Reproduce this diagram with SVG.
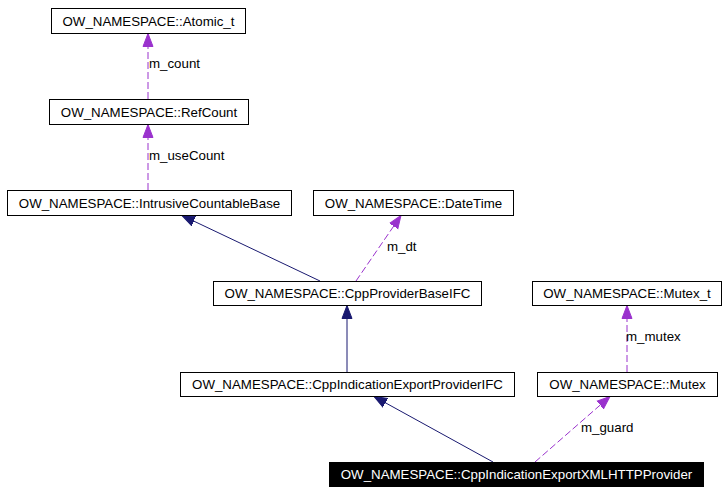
<svg xmlns="http://www.w3.org/2000/svg" width="728" height="493" viewBox="0 0 728 493">
<style>
  .box { fill: #ffffff; stroke: #000000; stroke-width: 1; }
  .sel { fill: #000000; stroke: #000000; stroke-width: 1; }
  .t { font-family: "Liberation Sans", Arial, sans-serif; font-size: 13.3px; fill: #000000; text-anchor: middle; }
  .tw { font-family: "Liberation Sans", Arial, sans-serif; font-size: 13.3px; fill: #ffffff; text-anchor: middle; }
  .lbl { font-family: "Liberation Sans", Arial, sans-serif; font-size: 13.3px; fill: #000000; }
  .inh { stroke: #191970; stroke-width: 1; fill: none; marker-end: url(#ah); }
  .use { stroke: #9a32cd; stroke-width: 1; fill: none; stroke-dasharray: 7,3; marker-end: url(#ap); }
</style>
<defs>
  <marker id="ah" markerUnits="userSpaceOnUse" markerWidth="14" markerHeight="12" refX="13" refY="5" orient="auto" viewBox="0 0 14 10">
    <path d="M0,0 L13,5 L0,10 z" fill="#191970" stroke="#191970"/>
  </marker>
  <marker id="ap" markerUnits="userSpaceOnUse" markerWidth="14" markerHeight="12" refX="13" refY="5" orient="auto" viewBox="0 0 14 10">
    <path d="M0,0 L13,5 L0,10 z" fill="#9a32cd" stroke="#9a32cd"/>
  </marker>
</defs>
<rect width="728" height="493" fill="#ffffff"/>
<g id="connectors">
  <line class="use" x1="148" y1="99" x2="148" y2="33.5"/>
  <line class="use" x1="148" y1="190" x2="148" y2="124.5"/>
  <line class="inh" x1="320" y1="281" x2="182" y2="215.5"/>
  <line class="use" x1="356" y1="281" x2="401" y2="215.5"/>
  <line class="inh" x1="347" y1="372" x2="347" y2="305.5"/>
  <line class="use" x1="627" y1="372" x2="627" y2="305.5"/>
  <line class="inh" x1="493" y1="462" x2="374" y2="396.5"/>
  <line class="use" x1="535" y1="462" x2="610" y2="396.5"/>
  <text class="lbl" x="149" y="68">m_count</text>
  <text class="lbl" x="149" y="160">m_useCount</text>
  <text class="lbl" x="387" y="251">m_dt</text>
  <text class="lbl" x="626" y="341">m_mutex</text>
  <text class="lbl" x="581" y="432">m_guard</text>
</g>
<g id="node_atomic">
  <rect class="box" x="51.5" y="8.5" width="194" height="25"/>
  <text class="t" x="148.5" y="25.5">OW_NAMESPACE::Atomic_t</text>
</g>
<g id="node_refcount">
  <rect class="box" x="49.5" y="99.5" width="199" height="25"/>
  <text class="t" x="149" y="116.5">OW_NAMESPACE::RefCount</text>
</g>
<g id="node_icb">
  <rect class="box" x="7.5" y="190.5" width="284" height="25"/>
  <text class="t" x="149.5" y="207.5">OW_NAMESPACE::IntrusiveCountableBase</text>
</g>
<g id="node_datetime">
  <rect class="box" x="313.5" y="190.5" width="200" height="25"/>
  <text class="t" x="413.5" y="207.5">OW_NAMESPACE::DateTime</text>
</g>
<g id="node_cpb">
  <rect class="box" x="213.5" y="281.5" width="268" height="24"/>
  <text class="t" x="347.5" y="298">OW_NAMESPACE::CppProviderBaseIFC</text>
</g>
<g id="node_mutex_t">
  <rect class="box" x="532.5" y="281.5" width="189" height="24"/>
  <text class="t" x="627" y="298">OW_NAMESPACE::Mutex_t</text>
</g>
<g id="node_ciep">
  <rect class="box" x="180.5" y="372.5" width="334" height="24"/>
  <text class="t" x="347.5" y="389">OW_NAMESPACE::CppIndicationExportProviderIFC</text>
</g>
<g id="node_mutex">
  <rect class="box" x="537.5" y="372.5" width="180" height="24"/>
  <text class="t" x="627.5" y="389">OW_NAMESPACE::Mutex</text>
</g>
<g id="node_xmlhttp">
  <rect class="sel" x="329.5" y="462.5" width="374" height="24"/>
  <text class="tw" x="516.5" y="479">OW_NAMESPACE::CppIndicationExportXMLHTTPProvider</text>
</g>
</svg>
